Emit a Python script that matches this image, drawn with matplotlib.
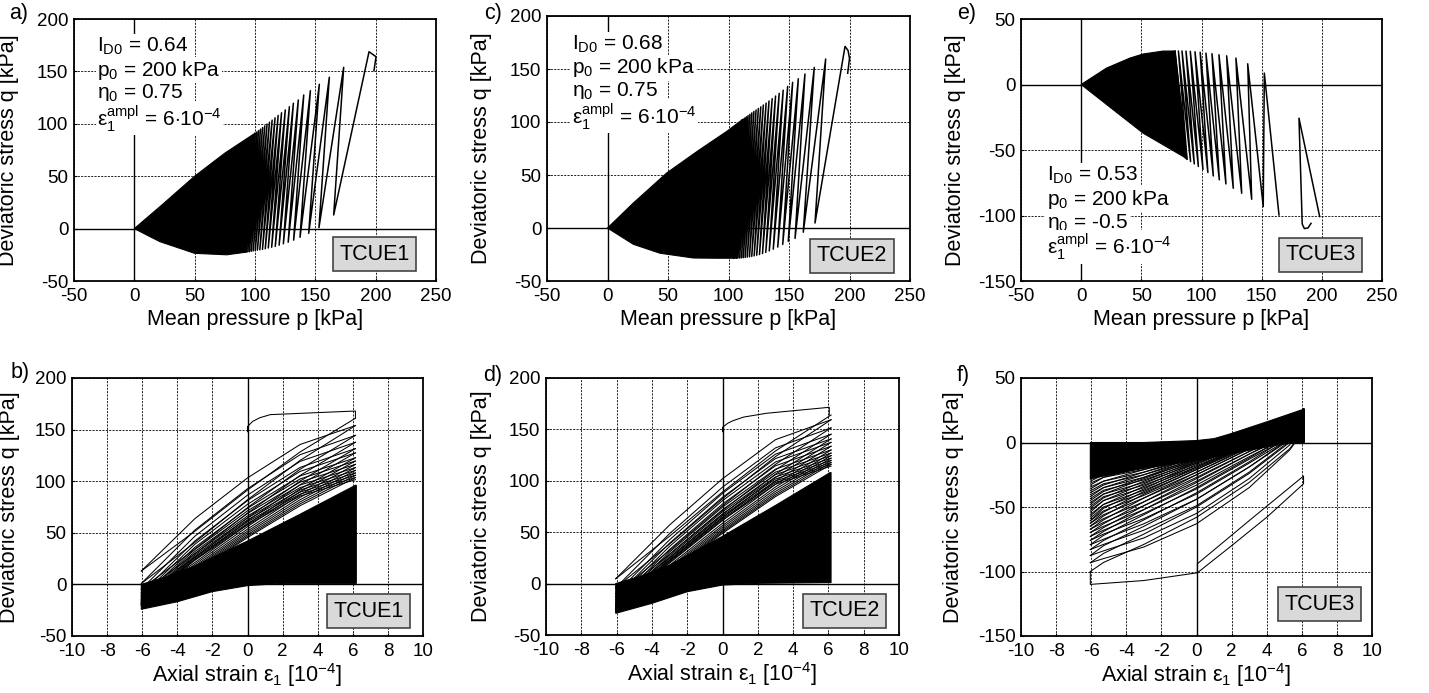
import matplotlib
matplotlib.use("Agg")
import matplotlib.pyplot as plt

plt.rcParams['font.family'] = ['Liberation Sans', 'DejaVu Sans']
plt.rcParams['mathtext.fontset'] = 'custom'
plt.rcParams['mathtext.rm'] = 'Liberation Sans'
plt.rcParams['mathtext.it'] = 'Liberation Sans'
plt.rcParams['mathtext.bf'] = 'Liberation Sans:bold'
plt.rcParams['axes.unicode_minus'] = False

W, H = 1429, 693

#================= TCUE1 : p-q path (a) =================
a_start_p = [198.6, 200.3]
a_start_q = [150.7, 164.0]
a_top_p = [194.5, 173.5, 161.6, 153.3, 145.9, 140.4, 135.9, 131.8, 128.5, 125.1, 122.0,
           119.2, 116.6, 114.2, 112.0, 110.0, 108.1, 106.3, 104.6, 103.0, 101.5, 100.0]
a_top_q = [168.8, 153.9, 144.4, 137.7, 131.6, 127.5, 122.7, 119.6, 116.3, 113.2, 110.5,
           108.0, 105.7, 103.5, 101.5, 99.7, 98.0, 96.4, 94.9, 93.5, 92.2, 91.0]
a_bot_p = [165.2, 153.0, 144.5, 137.3, 132.0, 127.5, 123.5, 120.0, 116.8, 113.8, 111.0,
           108.5, 106.2, 104.0, 102.0, 100.2, 98.5, 96.9, 95.4, 94.0, 92.6]
a_bot_q = [13.0, 0.9, -4.5, -8.3, -11.0, -13.0, -14.5, -15.8, -17.0, -17.8, -18.5,
           -19.2, -19.8, -20.2, -20.5, -21.0, -21.3, -21.6, -22.0, -22.2, -22.5]
a_dense_p = [0, 21.3, 50, 75, 100, 92.6, 76.6, 50, 21.3, 13, 0]
a_dense_q = [0, 21.0, 50, 72, 91, -22.5, -25.0, -23.6, -12.5, -7.7, 0]

#================= TCUE2 : p-q path (c) =================
c_start_p = [198.5, 200.0, 198.8]
c_start_q = [146.0, 160.0, 167.5]
c_top_p = [196.3, 180.3, 170.9, 163.2, 157.7, 153.0, 148.9, 145.2, 141.9, 138.9, 136.1, 133.5,
           131.1, 128.8, 126.7, 124.7, 122.8, 121.0, 119.3, 117.7, 116.2, 114.8, 113.5, 112.2, 111.0]
c_top_q = [171.3, 159.4, 151.5, 145.3, 140.8, 137.4, 133.6, 130.0, 127.0, 124.5, 122.0, 119.8,
           117.8, 116.0, 114.3, 112.8, 111.3, 110.0, 108.6, 107.3, 106.0, 104.9, 103.8, 102.8, 101.8]
c_bot_p = [171.5, 161.8, 155.0, 149.4, 144.8, 140.7, 137.0, 133.7, 130.8, 128.1, 125.6, 123.3,
           121.2, 119.2, 117.3, 115.5, 113.8, 112.2, 110.7, 109.2, 107.8, 106.5, 105.2, 104.0]
c_bot_q = [4.7, -4.0, -9.8, -12.6, -15.5, -18.0, -20.0, -21.6, -23.0, -24.1, -25.0, -25.7,
           -26.3, -26.8, -27.2, -27.5, -27.8, -28.0, -28.2, -28.3, -28.4, -28.5, -28.5, -28.5]
c_dense_p = [0, 21.4, 48.9, 75, 98.5, 111.0, 104.0, 90, 71, 43.4, 21.4, 0]
c_dense_q = [0, 23.6, 51.9, 73, 91.1, 101.8, -28.5, -28.5, -28.3, -23.8, -15.4, 0]

#================= TCUE3 : p-q path (e) =================
e_lens_p = [198.2, 181.0, 183.7, 185.5, 188.5, 191.0]
e_lens_q = [-100.8, -25.7, -106.5, -110.0, -109.5, -106.0]
e_top_p = [152.2, 138.4, 128.6, 120.9, 114.5, 108.7, 103.7, 98.9, 94.6, 90.7, 87.1, 83.8, 80.8, 78.0]
e_top_q = [8.7, 15.8, 20.2, 21.9, 22.7, 23.5, 24.0, 24.6, 25.0, 25.3, 25.5, 25.6, 25.6, 25.6]
e_bot_p = [164.4, 151.3, 141.7, 133.4, 126.4, 120.3, 114.8, 109.8, 105.3, 101.2, 97.4, 94.0, 90.9, 88.0]
e_bot_q = [-99.6, -93.2, -87.6, -83.0, -79.2, -75.9, -72.8, -69.8, -67.2, -64.8, -62.6, -60.6, -58.8, -57.2]
e_dense_p = [0, 21, 40.6, 51.6, 68, 78.0, 88.0, 84.9, 51.6, 26.7, 0]
e_dense_q = [0, 12.5, 20.2, 23.3, 25.5, 25.6, -57.2, -55.0, -37.2, -19.3, 0]

#================= strain - q curves =================
eps_nodes = [-6.05, -3, 0, 3, 6.15]

b_first_eps = [0, 0, 0.3, 0.7, 1.3, 3.9, 6.15, 6.15]
b_first_q = [148, 153, 158, 161.5, 164.5, 166.4, 168, 161]
b_reload = [[13, 63.7, 103.2, 135.6, 153.9], [0.9, 52.6, 92.7, 125.7, 144.4],
            [-4.5, 46.7, 86.5, 119.2, 137.7], [-8.3, 42.1, 81.2, 113.4, 131.6],
            [-11, 38.9, 77.6, 109.5, 127.5], [-13, 35.9, 73.8, 105.1, 122.7],
            [-14.5, 33.8, 71.3, 102.2, 119.6], [-15.8, 31.8, 68.7, 99.1, 116.3],
            [-17, 29.9, 66.3, 96.3, 113.2], [-17.8, 28.4, 64.3, 93.8, 110.5],
            [-18.5, 27, 62.5, 91.5, 108], [-19.2, 25.8, 60.7, 89.5, 105.7],
            [-19.8, 24.6, 59.1, 87.5, 103.5], [-20.2, 23.6, 57.7, 85.7, 101.5]]
b_unload = [[13, 51.5, 91.4, 128.4, 161], [0.9, 40.7, 82, 120.2, 153.9],
            [-4.5, 34.2, 74.4, 111.6, 144.4], [-8.3, 29.7, 69.1, 105.6, 137.7],
            [-11, 26.1, 64.6, 100.2, 131.6], [-13, 23.5, 61.5, 96.6, 127.5],
            [-14.5, 21.2, 58.2, 92.5, 122.7], [-15.8, 19.4, 56, 89.8, 119.6],
            [-17, 17.7, 53.6, 87, 116.3], [-17.8, 16.3, 51.6, 84.4, 113.2],
            [-18.5, 15, 49.9, 82.1, 110.5], [-19.2, 13.9, 48.2, 80, 108],
            [-19.8, 12.8, 46.7, 78.1, 105.7], [-20.2, 12, 45.4, 76.3, 103.5]]
b_dense_eps = [-6.05, -4.5, -3, 0, 3, 6.15, 6.2, 6.2, 2, 0, -2, -4, -6.05]
b_dense_q = [0, 8, 18, 42, 68, 96, 96, 1, 1, -1.2, -7, -16.8, -24.1]

d_first_eps = [0, 0, 0.3, 0.6, 1.2, 2.5, 6.05, 6.05]
d_first_q = [147.8, 152, 156, 158.5, 162, 165.7, 171.5, 164]
d_reload = [[4.7, 57, 102, 140, 159.4], [-4, 48.6, 93.8, 132, 151.5],
            [-9.8, 42.6, 87.8, 125.9, 145.3], [-12.6, 39.3, 83.9, 121.6, 140.8],
            [-15.5, 36.2, 80.7, 118.3, 137.4], [-18, 33.2, 77.4, 114.6, 133.6],
            [-20, 30.7, 74.4, 111.3, 130], [-21.6, 28.6, 71.9, 108.4, 127],
            [-23, 26.9, 69.8, 106, 124.5], [-24.1, 25.3, 67.8, 103.7, 122],
            [-25, 24, 66.1, 101.7, 119.8], [-25.7, 22.8, 64.6, 99.8, 117.8],
            [-26.3, 21.8, 63.2, 98.2, 116], [-26.8, 20.9, 61.9, 96.6, 114.3]]
d_unload = [[4.7, 46.1, 89.1, 129, 164], [-4, 38.5, 82.6, 123.5, 159.4],
            [-9.8, 32.1, 75.7, 116, 151.5], [-12.6, 28.5, 71.1, 110.6, 145.3],
            [-15.5, 25.1, 67.3, 106.4, 140.8], [-18, 22.4, 64.4, 103.2, 137.4],
            [-20, 19.9, 61.4, 99.8, 133.6], [-21.6, 17.8, 58.7, 96.6, 130],
            [-23, 16, 56.5, 94, 127], [-24.1, 14.5, 54.7, 91.8, 124.5],
            [-25, 13.2, 52.9, 89.7, 122], [-25.7, 12.1, 51.4, 87.8, 119.8],
            [-26.3, 11.2, 50.1, 86.1, 117.8], [-26.8, 10.3, 48.9, 84.6, 116]]
d_dense_eps = [-6.05, -4.5, -3, 0, 3, 6.1, 6.15, 6.15, 2.1, 0, -2, -4, -6.05]
d_dense_q = [0, 8, 18, 46, 76, 108, 108, 1, 0.3, -1.4, -7.9, -19.2, -28.9]

f_nodes = [-6.05, -5.3, -3, 0, 3, 5.3, 6.1]
f_first_eps = [0.05, 0.05, 3, 6.1, 6.1, 4, 2, 0.05, -3, -6.05, -6.05]
f_first_q = [-100, -94, -60.6, -26, -32, -58, -80, -101, -107, -110, -100]
f_reload = [[-100, -93, -79, -58, -31, -5, 8.7], [-93.2, -86, -71, -50, -24, 0, 15.8],
            [-87.6, -80, -65, -44, -19, 3, 20.2], [-83, -76, -60, -39, -15, 5, 21.9],
            [-79.2, -72, -56, -35, -12, 6, 22.7], [-75.9, -69, -52, -31, -9, 7, 23.5],
            [-72.8, -66, -49, -28, -7, 8, 24.0], [-69.8, -63, -46, -25, -5, 9, 24.6],
            [-67.2, -60, -43, -23, -3, 10, 25.0], [-64.8, -57, -40, -21, -2, 11, 25.3],
            [-62.6, -54, -38, -19, -1, 12, 25.5], [-60.6, -51, -36, -17, 0, 12, 25.6],
            [-57.2, -48, -34, -16, 0, 12, 25.6], [-54, -45, -32, -15, 0, 12, 25.7],
            [-51, -43, -30, -14, 0, 12, 25.7], [-48, -40, -28, -13, 0.5, 12, 25.8],
            [-45, -38, -27, -12, 0.5, 12, 25.8], [-42, -35, -25, -11, 1, 12, 25.9],
            [-39, -33, -23, -10, 1, 12, 25.9], [-36, -30, -21, -9, 1, 12, 26],
            [-33, -27, -19, -8, 1, 12, 26], [-30, -25, -17, -7, 1.5, 12, 26]]
f_unload = [[-93.2, -90, -81, -63, -35, -6, 8.7], [-87.6, -84, -74, -55, -28, -2, 15.8],
            [-83, -79, -68, -49, -23, 1, 20.2], [-79.2, -75, -63, -44, -19, 2, 21.9],
            [-75.9, -71, -59, -40, -16, 3, 22.7], [-72.8, -68, -55, -36, -13, 4, 23.5],
            [-69.8, -65, -52, -33, -11, 5, 24.0], [-67.2, -62, -49, -30, -9, 6, 24.6],
            [-64.8, -59, -46, -27, -7, 7, 25.0], [-62.6, -56, -43, -25, -5, 8, 25.3],
            [-60.6, -53, -41, -23, -4, 9, 25.5], [-58.8, -50, -39, -21, -3, 10, 25.6],
            [-55.7, -48, -37, -20, -2, 10, 25.6], [-52.5, -45, -35, -19, -2, 10, 25.7],
            [-49.5, -42, -33, -18, -1, 10, 25.7], [-46.5, -40, -31, -16, -1, 10, 25.8],
            [-43.5, -37, -29, -15, -1, 10, 25.8], [-40.5, -35, -27, -14, 0, 10, 25.9],
            [-37.5, -32, -25, -13, 0, 10, 25.9], [-34.5, -30, -23, -12, 0, 10, 26],
            [-31.5, -27, -21, -11, 0, 10, 26], [-28.5, -25, -19, -10, 0, 10, 26]]
f_dense_eps = [-6.05, -3, 0, 1, 2, 4, 6.15, 6.15, 5, 3, 0, -3, -6.05]
f_dense_q = [0, 0, 1.5, 3, 7, 16, 26, 0, -1, -6, -14, -20, -28]

params = {
    'a': ['0.64', '200 kPa', '0.75', r'6$\cdot$10$^{-4}$'],
    'c': ['0.68', '200 kPa', '0.75', r'6$\cdot$10$^{-4}$'],
    'e': ['0.53', '200 kPa', '-0.5', r'6$\cdot$10$^{-4}$'],
}
#======================================================================

fig = plt.figure(figsize=(W / 100, H / 100), dpi=100)


def make_axes(l, t, r, b):
    return fig.add_axes([l / W, 1 - b / H, (r - l) / W, (b - t) / H])


def style(ax, xlim, ylim, xticks, yticks, xlabel, ylab_x, xpad):
    ax.set_xlim(xlim)
    ax.set_ylim(ylim)
    ax.set_xticks(xticks)
    ax.set_yticks(yticks)
    ax.set_axisbelow(True)
    ax.grid(True, color='k', linestyle=(0, (2.5, 1.5)), linewidth=0.6)
    ax.axhline(0, color='k', lw=1.0, zorder=1.5)
    ax.axvline(0, color='k', lw=1.0, zorder=1.5)
    for s in ax.spines.values():
        s.set_linewidth(1.3)
    ax.tick_params(direction='in', length=2, labelsize=13.5, pad=4)
    ax.tick_params(axis='x', pad=5)
    ax.set_xlabel(xlabel, fontsize=15.5, labelpad=xpad)
    ax.set_ylabel('Deviatoric stress q [kPa]', fontsize=15.5)
    ax.yaxis.set_label_coords(ylab_x, 0.5)


def zigzag(first_p, first_q, second_p, second_q):
    ps, qs = [], []
    for i in range(len(first_p)):
        ps.append(first_p[i]); qs.append(first_q[i])
        if i < len(second_p):
            ps.append(second_p[i]); qs.append(second_q[i])
    return ps, qs


def tag(ax, txt, x, y):
    ax.text(x, y, txt, transform=ax.transAxes, fontsize=15.5, ha='center', va='center',
            bbox=dict(boxstyle='square,pad=0.3', fc='#d9d9d9', ec='#444444', lw=1.2), zorder=6)


def param_text(ax, key, x, ys):
    v = params[key]
    lines = [r'$\mathrm{I_{D0}}$ = ' + v[0], r'$\mathrm{p_0}$ = ' + v[1],
             r'$\mathrm{η_0}$ = ' + v[2], r'$\mathrm{ε_1^{ampl}}$ = ' + v[3]]
    for s, y in zip(lines, ys):
        ax.text(x, y, s, transform=ax.transAxes, fontsize=15, ha='left', va='center',
                bbox=dict(boxstyle='square,pad=0.08', fc='white', ec='none'), zorder=5)


LW = 1.1
pq_xt = [-50, 0, 50, 100, 150, 200, 250]

# ---- a) ----
ax = make_axes(74, 19, 436, 281)
style(ax, (-50, 250), (-50, 200), pq_xt, [-50, 0, 50, 100, 150, 200], 'Mean pressure p [kPa]', -0.152, 3)
ax.fill(a_dense_p, a_dense_q, color='k', lw=0.8, zorder=2)
zp, zq = zigzag(a_top_p, a_top_q, a_bot_p, a_bot_q)
ax.plot(a_start_p + zp, a_start_q + zq, color='k', lw=LW, zorder=3)
param_text(ax, 'a', 0.064, [0.894, 0.805, 0.716, 0.621])
tag(ax, 'TCUE1', 0.83, 0.103)
fig.text(19 / W, 1 - 13 / H, 'a)', fontsize=15.5, ha='center', va='center')

# ---- c) ----
ax = make_axes(547, 16, 910, 281)
style(ax, (-50, 250), (-50, 200), pq_xt, [-50, 0, 50, 100, 150, 200], 'Mean pressure p [kPa]', -0.152, 3)
ax.fill(c_dense_p, c_dense_q, color='k', lw=0.8, zorder=2)
zp, zq = zigzag(c_top_p, c_top_q, c_bot_p, c_bot_q)
ax.plot(c_start_p + zp, c_start_q + zq, color='k', lw=LW, zorder=3)
param_text(ax, 'c', 0.068, [0.894, 0.805, 0.716, 0.621])
tag(ax, 'TCUE2', 0.84, 0.096)
fig.text(493 / W, 1 - 13 / H, 'c)', fontsize=15.5, ha='center', va='center')

# ---- e) ----
ax = make_axes(1021, 19, 1382, 281)
style(ax, (-50, 250), (-150, 50), pq_xt, [-150, -100, -50, 0, 50], 'Mean pressure p [kPa]', -0.152, 3)
ax.fill(e_dense_p, e_dense_q, color='k', lw=0.8, zorder=2)
ax.plot(e_lens_p, e_lens_q, color='k', lw=LW, zorder=3)
zp, zq = zigzag(e_bot_p, e_bot_q, e_top_p, e_top_q)
ax.plot(zp, zq, color='k', lw=LW, zorder=3)
param_text(ax, 'e', 0.071, [0.405, 0.312, 0.223, 0.131])
tag(ax, 'TCUE3', 0.83, 0.10)
fig.text(967 / W, 1 - 13 / H, 'e)', fontsize=15.5, ha='center', va='center')

eps_xt = list(range(-10, 11, 2))
eps_label = r'Axial strain $\mathrm{ε_1}$ [10$^{-4}$]'
LW2 = 0.75

# ---- b) ----
ax = make_axes(72, 378, 423, 636)
style(ax, (-10, 10), (-50, 200), eps_xt, [-50, 0, 50, 100, 150, 200], eps_label, -0.148, 1)
ax.fill(b_dense_eps, b_dense_q, color='k', lw=0.8, zorder=2)
ax.plot(b_first_eps, b_first_q, color='k', lw=LW2, zorder=3)
for r in b_reload:
    ax.plot(eps_nodes, r, color='k', lw=LW2, zorder=3)
for u in b_unload:
    ax.plot(eps_nodes, u, color='k', lw=LW2, zorder=3)
tag(ax, 'TCUE1', 0.845, 0.096)
fig.text(20 / W, 1 - 373 / H, 'b)', fontsize=15.5, ha='center', va='center')

# ---- d) ----
ax = make_axes(546, 378, 899, 635)
style(ax, (-10, 10), (-50, 200), eps_xt, [-50, 0, 50, 100, 150, 200], eps_label, -0.153, 1)
ax.fill(d_dense_eps, d_dense_q, color='k', lw=0.8, zorder=2)
ax.plot(d_first_eps, d_first_q, color='k', lw=LW2, zorder=3)
for r in d_reload:
    ax.plot(eps_nodes, r, color='k', lw=LW2, zorder=3)
for u in d_unload:
    ax.plot(eps_nodes, u, color='k', lw=LW2, zorder=3)
tag(ax, 'TCUE2', 0.845, 0.095)
fig.text(493 / W, 1 - 375 / H, 'd)', fontsize=15.5, ha='center', va='center')

# ---- f) ----
ax = make_axes(1021, 378, 1372, 636)
style(ax, (-10, 10), (-150, 50), eps_xt, [-150, -100, -50, 0, 50], eps_label, -0.162, 1)
ax.fill(f_dense_eps, f_dense_q, color='k', lw=0.8, zorder=2)
ax.plot(f_first_eps, f_first_q, color='k', lw=LW2, zorder=3)
for r in f_reload:
    ax.plot(f_nodes, r, color='k', lw=LW2, zorder=3)
for u in f_unload:
    ax.plot(f_nodes, u, color='k', lw=LW2, zorder=3)
tag(ax, 'TCUE3', 0.85, 0.124)
fig.text(963 / W, 1 - 375 / H, 'f)', fontsize=15.5, ha='center', va='center')

fig.savefig('out.png', dpi=100)
